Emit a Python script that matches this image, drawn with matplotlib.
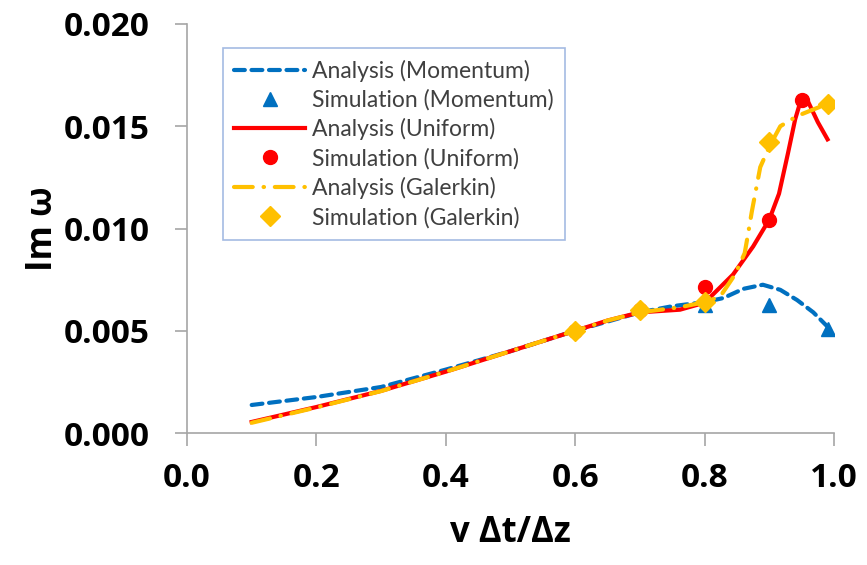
import matplotlib.pyplot as plt
import numpy as np

# analysis curves
mom_x = [0.10, 0.20, 0.30, 0.40, 0.50, 0.60, 0.70, 0.75, 0.80, 0.829, 0.86, 0.89, 0.917, 0.943, 0.968, 0.99]
mom_y = [0.00137, 0.00176, 0.00225, 0.0031, 0.0040, 0.0050, 0.0059, 0.0062, 0.0064, 0.0066, 0.00705, 0.00725, 0.0070, 0.0065, 0.0059, 0.0052]

uni_x = [0.10, 0.20, 0.30, 0.40, 0.50, 0.60, 0.65, 0.70, 0.762, 0.80, 0.844, 0.875, 0.90, 0.915, 0.929, 0.940, 0.949, 0.96, 0.975, 0.99]
uni_y = [0.00054, 0.00127, 0.00206, 0.0030, 0.0040, 0.0050, 0.0055, 0.0059, 0.00603, 0.00637, 0.00775, 0.00912, 0.01044, 0.0117, 0.0137, 0.01534, 0.0163, 0.0162, 0.0152, 0.01436]

gal_x = [0.10, 0.20, 0.30, 0.40, 0.50, 0.60, 0.65, 0.70, 0.762, 0.80, 0.824, 0.847, 0.862, 0.867, 0.873, 0.886, 0.90, 0.917, 0.943, 0.99]
gal_y = [0.00050, 0.00125, 0.00205, 0.0030, 0.0040, 0.0050, 0.0055, 0.0059, 0.00615, 0.0064, 0.00667, 0.00775, 0.0088, 0.0097, 0.01083, 0.0130, 0.0140, 0.0150, 0.0155, 0.0161]

# simulation points
sim_mom_x = [0.8, 0.9, 0.99]
sim_mom_y = [0.00627, 0.00627, 0.0051]
sim_uni_x = [0.6, 0.7, 0.8, 0.9, 0.95]
sim_uni_y = [0.0050, 0.00603, 0.00716, 0.01044, 0.01627]
sim_gal_x = [0.6, 0.7, 0.8, 0.9, 0.99]
sim_gal_y = [0.0050, 0.0060, 0.0064, 0.01422, 0.01608]

blue = '#0070c0'
red = '#ff0000'
gold = '#ffc000'
tickfont = {'family': 'Open Sans', 'weight': 'bold', 'size': 24}

fig = plt.figure(figsize=(8.67, 5.65), dpi=100)
ax = fig.add_axes([187/867, 1-433/565, 647/867, 409/565])

ax.plot(mom_x, mom_y, color=blue, lw=3, dashes=(2.6, 1.6), dash_capstyle='round',
        label='Analysis (Momentum)', zorder=2)
ax.plot(sim_mom_x, sim_mom_y, '^', color=blue, ms=10, ls='none', label='Simulation (Momentum)', zorder=2)
ax.plot(uni_x, uni_y, color=red, lw=3, label='Analysis (Uniform)', zorder=3)
ax.plot(sim_uni_x, sim_uni_y, 'o', color=red, ms=10, ls='none', label='Simulation (Uniform)', zorder=4)
ax.plot(gal_x, gal_y, color=gold, lw=3, dashes=(4.5, 2.6, 0.1, 2.6), dash_capstyle='round',
        label='Analysis (Galerkin)', zorder=5)
ax.plot(sim_gal_x, sim_gal_y, 'D', color=gold, ms=10, ls='none', label='Simulation (Galerkin)', zorder=5)

ax.set_xlim(0, 1.0)
ax.set_ylim(0, 0.020)
ax.set_xticks(np.arange(0, 1.01, 0.2))
ax.set_yticks(np.arange(0, 0.0201, 0.005))
ax.set_xticklabels(['0.0', '0.2', '0.4', '0.6', '0.8', '1.0'], fontdict=tickfont)
ax.set_yticklabels(['0.000', '0.005', '0.010', '0.015', '0.020'], fontdict=tickfont)

for s in ['top', 'right']:
    ax.spines[s].set_visible(False)
for s in ['left', 'bottom']:
    ax.spines[s].set_color('#a6a6a6')
    ax.spines[s].set_linewidth(1.2)
ax.tick_params(direction='out', length=9, width=1.2, color='#a6a6a6')
ax.tick_params(axis='y', pad=18)
ax.tick_params(axis='x', pad=12)

ax.set_xlabel('v \u0394t/\u0394z', fontsize=25, fontweight='bold', family='Open Sans', labelpad=14)
ax.set_ylabel('Im \u03c9', fontsize=25, fontweight='bold', family='Open Sans', labelpad=2)

leg = ax.legend(loc='upper left', bbox_to_anchor=(0.0556, 0.941), borderaxespad=0,
                prop={'family': 'Lato', 'size': 16.5}, handlelength=3.1,
                handletextpad=0.3, labelspacing=0.33, borderpad=0.5,
                fancybox=False, frameon=True)
leg.get_frame().set_edgecolor('#8eaadb')
leg.get_frame().set_linewidth(1.2)
for t in leg.get_texts():
    t.set_color('#404040')

fig.savefig('out.png', dpi=100)
